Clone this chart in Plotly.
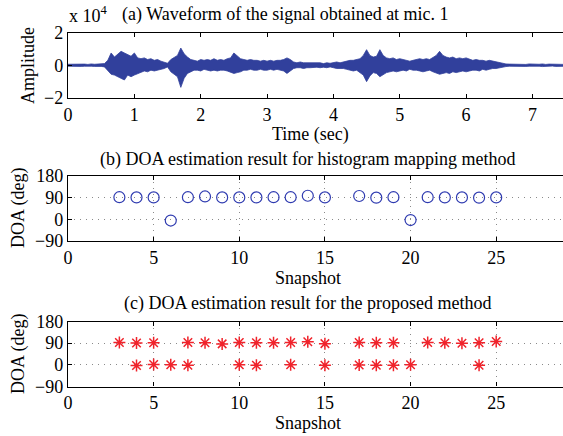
import plotly.graph_objects as go

# ---------------- data ----------------
# (a) waveform envelope (units of 1e4), sampled every 0.05 s from 0 s
wave_upper = [0.06,0.07,0.05,0.08,0.06,0.07,0.05,0.08,0.06,0.07,0.06,0.10,
              0.30,0.75,0.50,0.65,0.85,0.75,0.65,0.55,0.75,0.45,0.40,0.45,0.35,0.40,0.30,0.35,0.25,0.20,
              0.12,0.35,0.50,0.60,1.05,0.70,0.50,0.35,0.30,0.25,
              0.35,0.30,0.35,0.30,0.40,0.30,0.35,0.30,0.40,0.45,0.75,0.55,0.40,0.35,0.30,0.35,0.30,0.30,0.25,0.30,
              0.25,0.30,0.25,0.30,0.30,0.35,0.45,0.35,0.20,0.15,0.20,0.15,0.15,0.12,0.15,0.12,0.15,0.10,0.15,0.12,
              0.15,0.20,0.15,0.20,0.25,0.30,0.30,0.35,0.40,0.60,0.95,0.60,0.50,0.55,0.95,0.60,0.45,0.40,0.45,0.35,
              0.40,0.35,0.30,0.25,0.30,0.35,0.40,0.35,0.40,0.35,0.45,0.60,0.85,0.60,0.50,0.45,0.50,0.40,0.45,0.40,
              0.45,0.35,0.30,0.35,0.30,0.30,0.25,0.30,0.25,0.20,0.15,0.10,0.08,
              0.07,0.06,0.08,0.06,0.07,0.05,0.08,0.06,0.07,0.06,0.08,0.05,0.07,0.06,0.08,0.06,0.07,0.05,0.07,0.06,0.07]
wave_lower = [-0.06,-0.07,-0.06,-0.05,-0.07,-0.06,-0.08,-0.06,-0.07,-0.05,-0.07,-0.10,
              -0.30,-0.55,-0.60,-0.70,-0.85,-0.90,-0.60,-0.70,-0.60,-0.50,-0.40,-0.35,-0.40,-0.30,-0.35,-0.30,-0.25,-0.20,
              -0.10,-0.40,-0.55,-0.70,-1.35,-0.80,-0.50,-0.40,-0.30,-0.30,
              -0.35,-0.25,-0.30,-0.35,-0.30,-0.35,-0.30,-0.30,-0.35,-0.45,-0.50,-0.45,-0.40,-0.30,-0.30,-0.25,-0.30,-0.30,-0.25,-0.30,
              -0.30,-0.25,-0.30,-0.25,-0.30,-0.35,-0.50,-0.35,-0.20,-0.15,-0.15,-0.20,-0.15,-0.15,-0.12,-0.12,-0.15,-0.12,-0.15,-0.10,
              -0.15,-0.20,-0.20,-0.20,-0.25,-0.30,-0.35,-0.30,-0.45,-0.60,-1.00,-0.65,-0.45,-0.50,-0.70,-0.55,-0.45,-0.40,-0.35,-0.40,
              -0.35,-0.30,-0.35,-0.25,-0.30,-0.30,-0.35,-0.40,-0.35,-0.30,-0.40,-0.50,-0.55,-0.50,-0.45,-0.50,-0.40,-0.45,-0.40,-0.35,
              -0.40,-0.35,-0.30,-0.30,-0.35,-0.25,-0.30,-0.25,-0.20,-0.20,-0.15,-0.10,-0.08,
              -0.06,-0.07,-0.06,-0.08,-0.06,-0.07,-0.06,-0.05,-0.07,-0.06,-0.08,-0.06,-0.07,-0.05,-0.07,-0.06,-0.08,-0.06,-0.07,-0.06,-0.07]
sample_step = 0.05
wave_time = [round(i * sample_step, 2) for i in range(len(wave_upper))]

# (b) histogram mapping method
hist_snap = [3, 4, 5, 6, 7, 8, 9, 10, 11, 12, 13, 14, 15, 17, 18, 19, 20, 21, 22, 23, 24, 25]
hist_doa  = [92, 91, 91, -5, 92, 95, 91, 91, 91, 92, 92, 98, 91, 97, 90, 92, -3, 92, 91, 91, 90, 91]

# (c) proposed method
prop_snap = [3, 4, 5, 7, 8, 9, 10, 11, 12, 13, 14, 15, 17, 18, 19, 21, 22, 23, 24, 25,
             4, 5, 6, 7, 10, 11, 13, 15, 17, 18, 19, 20, 24]
prop_doa  = [93, 91, 92, 93, 92, 87, 93, 92, 92, 93, 96, 88, 93, 92, 92, 93, 92, 90, 92, 97,
             -3, 1, 0, -2, 0, -2, 0, -2, -1, -2, -2, 0, -2]

titles = ["(a) Waveform of the signal obtained at mic. 1",
          "(b) DOA estimation result for histogram mapping method",
          "(c) DOA estimation result for the proposed method"]

# ---------------- figure ----------------
W, H = 563, 436
FONT = "Times New Roman, Liberation Serif, serif"
FS = 18
wave_col = "#31409C"

fig = go.Figure()
fig.add_trace(go.Scatter(x=wave_time, y=wave_lower, mode="lines",
                         line=dict(color=wave_col, width=0.8), xaxis="x", yaxis="y",
                         showlegend=False, hoverinfo="skip"))
fig.add_trace(go.Scatter(x=wave_time, y=wave_upper, mode="lines", fill="tonexty",
                         fillcolor=wave_col, line=dict(color=wave_col, width=0.8),
                         xaxis="x", yaxis="y", showlegend=False, hoverinfo="skip"))
fig.add_trace(go.Scatter(x=hist_snap, y=hist_doa, mode="markers",
                         marker=dict(symbol="circle-open", size=11, color="#2F3BB0",
                                     line=dict(width=1.2, color="#2F3BB0")),
                         xaxis="x2", yaxis="y2", showlegend=False))
fig.add_trace(go.Scatter(x=prop_snap, y=prop_doa, mode="markers",
                         marker=dict(symbol="asterisk-open", size=10, color="#F0232B",
                                     line=dict(width=1.5, color="#F0232B")),
                         xaxis="x3", yaxis="y3", showlegend=False))

def py(p):
    return 1 - p / H

def px(p):
    return p / W

xdom = [px(68), 1.0]
common_ax = dict(showline=True, linecolor="black", linewidth=1.3, ticks="inside",
                 ticklen=4, tickcolor="black", zeroline=False, automargin=False,
                 tickfont=dict(family=FONT, size=FS, color="black"))
grid = dict(showgrid=True, gridcolor="#8a8a8a", griddash="1px,5px", gridwidth=1)

fig.update_layout(
    width=W, height=H, margin=dict(l=0, r=0, t=0, b=0, autoexpand=False),
    paper_bgcolor="white", plot_bgcolor="white",
    xaxis=dict(domain=xdom, anchor="y", range=[0, 7.46], tickvals=[0, 1, 2, 3, 4, 5, 6, 7],
               mirror="ticks", showgrid=False, **common_ax),
    yaxis=dict(domain=[py(98), py(32.5)], anchor="x", range=[-2, 2], tickvals=[-2, 0, 2],
               showgrid=False, **common_ax),
    xaxis2=dict(domain=xdom, anchor="y2", range=[0, 28.9], tickvals=[0, 5, 10, 15, 20, 25],
                mirror="ticks", **grid, **common_ax),
    yaxis2=dict(domain=[py(241), py(176)], anchor="x2", range=[-90, 180],
                tickvals=[-90, 0, 90, 180], **grid, **common_ax),
    xaxis3=dict(domain=xdom, anchor="y3", range=[0, 28.9], tickvals=[0, 5, 10, 15, 20, 25],
                mirror="ticks", **grid, **common_ax),
    yaxis3=dict(domain=[py(386.5), py(321.5)], anchor="x3", range=[-90, 180],
                tickvals=[-90, 0, 90, 180], **grid, **common_ax),
)

def note(text, x, y, angle=0, size=FS):
    fig.add_annotation(text=text, x=px(x), y=py(y), xref="paper", yref="paper",
                       showarrow=False, textangle=angle, xanchor="center", yanchor="middle",
                       font=dict(family=FONT, size=size, color="black"))

note(titles[0], 285, 15)
note(titles[1], 308, 159)
note(titles[2], 307, 303)
note("x 10<sup>4</sup>", 88, 15)
note("Time (sec)", 310, 134)
note("Snapshot", 308, 278)
note("Snapshot", 308, 423)
note("Amplitude", 28, 66, angle=-90)
note("DOA (deg)", 18, 208, angle=-90)
note("DOA (deg)", 18, 354, angle=-90)

fig.write_html("out.html", config={"displayModeBar": False},
               post_script="document.body.style.margin='0';document.body.style.overflow='hidden';")
